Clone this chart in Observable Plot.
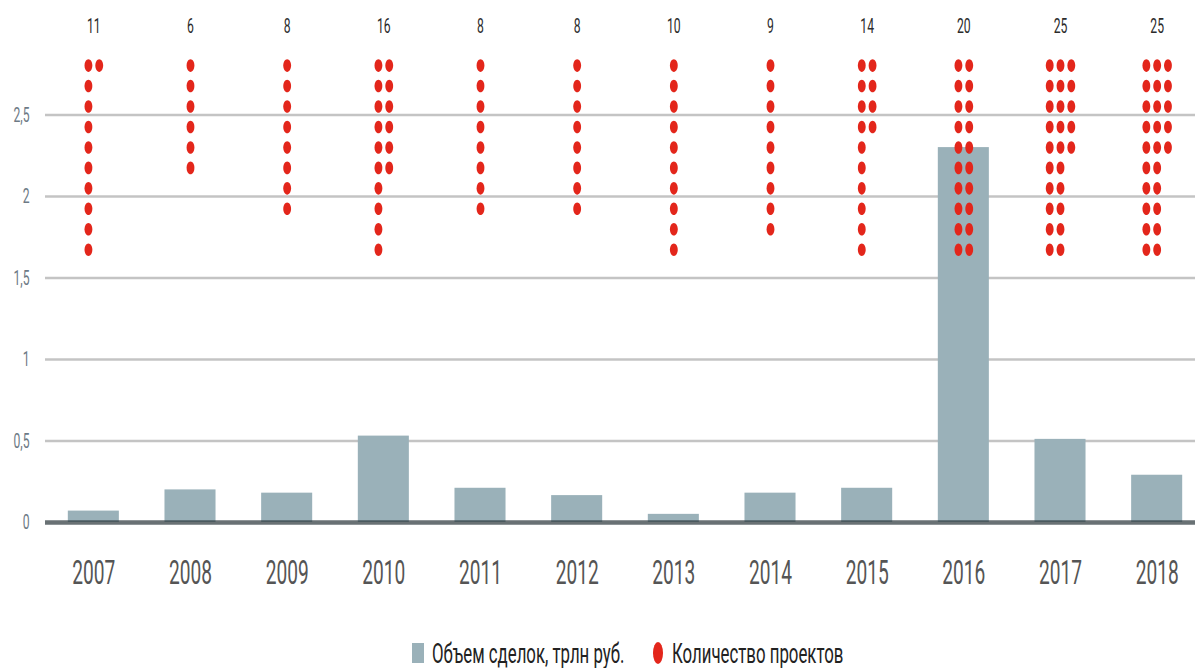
<!DOCTYPE html>
<html>
<head>
<meta charset="utf-8">
<script src="https://cdn.jsdelivr.net/npm/d3@7"></script>
<script src="https://cdn.jsdelivr.net/npm/@observablehq/plot@0.6"></script>
<style>
  html, body { margin: 0; padding: 0; background: #fff; }
  #chart { width: 1195px; height: 610px; }
  .legend { position: relative; width: 1195px; height: 58px; font-family: Roboto, "Noto Sans", sans-serif; }
  .legend .item { position: absolute; top: 14px; height: 58px; display: flex; align-items: center; }
  .legend .lab { display: inline-block; font-size: 28px; color: #222; transform-origin: left center; transform: scaleX(0.6); white-space: nowrap; }
  .legend .sw { display: inline-block; width: 12px; height: 20px; background: #9ab1b9; margin-right: 8px; }
  .legend .el { display: inline-block; width: 10px; height: 22px; border-radius: 50%; background: #e3261b; margin-right: 9px; }
</style>
</head>
<body>
<div id="chart"></div>
<div class="legend">
  <div class="item" style="left:412px"><span class="sw"></span><span class="lab">Объем сделок, трлн руб.</span></div>
  <div class="item" style="left:653px"><span class="el"></span><span class="lab">Количество проектов</span></div>
</div>
<script>
const years = [2007, 2008, 2009, 2010, 2011, 2012, 2013, 2014, 2015, 2016, 2017, 2018];
const volume = [0.07, 0.2, 0.18, 0.53, 0.21, 0.165, 0.05, 0.18, 0.21, 2.3, 0.51, 0.29];
const projects = [11, 6, 8, 16, 8, 8, 10, 9, 14, 20, 25, 25];
const yTicks = [0, 0.5, 1, 1.5, 2, 2.5];

const bars = years.map((y, i) => ({year: String(y), volume: volume[i], projects: projects[i]}));

// dot grid: columns of 10 stacked downward from the top, columns centred on the year
const perCol = 10, topValue = 2.803, rowStep = 0.1255, colGap = 10.8;
const dots = [];
bars.forEach(b => {
  const nCols = Math.ceil(b.projects / perCol);
  for (let k = 0; k < b.projects; k++) {
    const col = Math.floor(k / perCol), row = k % perCol;
    dots.push({year: b.year, y: topValue - row * rowStep, offset: (col - (nCols - 1) / 2) * colGap});
  }
});
const offsets = Array.from(new Set(dots.map(d => d.offset))).sort((a, b) => a - b);

const ellipse = {
  draw(ctx, size) {
    const r = Math.sqrt(size / Math.PI);
    const rx = r * 0.62, ry = r, k = 0.5523;
    ctx.moveTo(rx, 0);
    ctx.bezierCurveTo(rx, k * ry, k * rx, ry, 0, ry);
    ctx.bezierCurveTo(-k * rx, ry, -rx, k * ry, -rx, 0);
    ctx.bezierCurveTo(-rx, -k * ry, -k * rx, -ry, 0, -ry);
    ctx.bezierCurveTo(k * rx, -ry, rx, -k * ry, rx, 0);
    ctx.closePath();
  }
};

const fmt = d => String(d).replace(".", ",");

const plot = Plot.plot({
  width: 1195,
  height: 610,
  marginLeft: 45,
  marginRight: 0,
  marginTop: 0,
  marginBottom: 88,
  style: {fontFamily: "Roboto, 'Noto Sans', sans-serif", background: "#fff"},
  x: {domain: years.map(String), range: [45, 1205], paddingInner: 0.472, paddingOuter: 0.236, round: false},
  y: {domain: [0, 2.5], range: [522, 114.5]},
  marks: [
    Plot.ruleY(yTicks.filter(t => t > 0), {stroke: "#c4c4c4", strokeWidth: 2.5}),
    Plot.barY(bars, {x: "year", y: "volume", fill: "#9ab1b9"}),
    Plot.ruleY([0], {stroke: "#2a3539", strokeOpacity: 0.7, strokeWidth: 4.5}),
    ...offsets.map(o => Plot.dot(dots.filter(d => d.offset === o), {
      x: "year", y: "y", dx: o, r: 6.3, symbol: ellipse, fill: "#e3261b", stroke: "none"
    })),
    Plot.text(bars, {x: "year", text: d => String(d.projects), frameAnchor: "top", dy: 26, fontSize: 21, fill: "#2b2b2b", lineAnchor: "middle"}),
    Plot.axisX({tickSize: 0, tickPadding: 51, fontSize: 33, fill: "#555", lineAnchor: "middle", label: null}),
    Plot.axisY(yTicks, {tickSize: 0, tickPadding: 16, fontSize: 21, fill: "#6d7a85", tickFormat: fmt, label: null})
  ]
});

document.getElementById("chart").appendChild(plot);

// condense all text horizontally around its anchor, as in the reference typeface
const factor = 0.58;
plot.querySelectorAll("text").forEach(t => {
  const tr = t.getAttribute("transform");
  if (tr) {
    t.setAttribute("transform", tr + ` scale(${factor},1)`);
  } else {
    const x = +(t.getAttribute("x") || 0);
    t.setAttribute("transform", `translate(${x},0) scale(${factor},1) translate(${-x},0)`);
  }
});
</script>
</body>
</html>
